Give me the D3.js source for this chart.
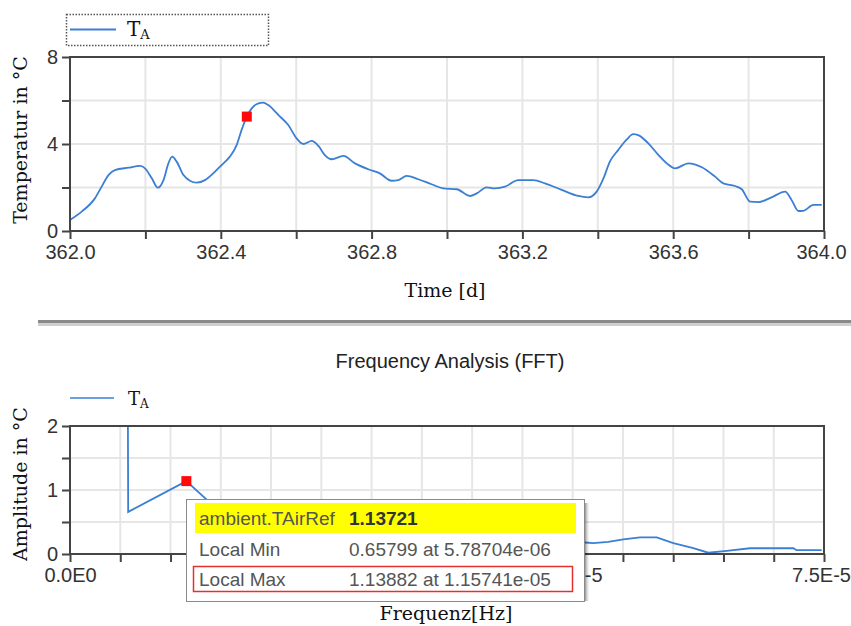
<!DOCTYPE html>
<html><head><meta charset="utf-8">
<script src="https://cdn.jsdelivr.net/npm/d3@7"></script>
<style>body{margin:0;background:#fff}svg{display:block}</style>
</head><body><svg id="c" width="851" height="626"></svg>
<script>
// ---------- data ----------
const timeDays = [362.000,362.031,362.066,362.084,362.102,362.119,362.155,362.186,362.199,362.217,362.233,362.248,362.261,362.271,362.283,362.301,362.318,362.336,362.358,362.380,362.402,362.424,362.442,362.455,362.469,362.482,362.500,362.512,362.526,362.553,362.579,362.601,362.619,362.641,362.659,362.676,362.694,362.725,362.756,362.791,362.822,362.853,362.871,362.893,362.924,362.959,362.990,363.026,363.061,363.079,363.105,363.127,363.154,363.189,363.229,363.260,363.304,363.348,363.375,363.397,363.415,363.432,363.454,363.477,363.494,363.507,363.534,363.561,363.583,363.605,363.640,363.676,363.711,363.733,363.764,363.782,363.804,363.826,363.861,363.897,363.914,363.932,363.945,363.972,363.994];
const tempA = [0.51,0.89,1.50,2.04,2.57,2.80,2.91,2.99,2.88,2.42,1.99,2.34,3.11,3.42,3.19,2.57,2.31,2.22,2.34,2.65,3.03,3.42,3.95,4.64,5.26,5.64,5.87,5.90,5.79,5.33,4.87,4.26,4.00,4.14,3.91,3.49,3.30,3.45,3.11,2.84,2.65,2.31,2.34,2.53,2.38,2.15,1.96,1.92,1.61,1.73,2.01,1.96,2.04,2.34,2.34,2.19,1.89,1.61,1.55,1.81,2.42,3.19,3.72,4.21,4.45,4.41,4.03,3.49,3.11,2.88,3.11,2.93,2.50,2.19,2.07,1.92,1.35,1.33,1.55,1.81,1.43,0.92,0.93,1.20,1.20];
const timeMarker = [362.469, 5.26];
const timeTickValues = [362.0,362.2,362.4,362.6,362.8,363.0,363.2,363.4,363.6,363.8,364.0];
const timeTickLabels = ["362.0","","362.4","","362.8","","363.2","","363.6","","364.0"];
const tempTickValues = [0,2,4,6,8];
const tempTickLabels = ["0","","4","","8"];

const fftFreq = [0,5.787e-6,1.1574e-5,1.7361e-5,2.3148e-5,2.8935e-5,3.4722e-5,4.0509e-5,4.6296e-5,5.123e-5,5.205e-5,5.355e-5,5.504e-5,5.670e-5,5.836e-5,6.001e-5,6.200e-5,6.349e-5,6.532e-5,6.764e-5,7.195e-5,7.228e-5,7.477e-5];
const fftAmp  = [300,0.658,1.1388,0.31,0.26,0.22,0.20,0.18,0.18,0.18,0.17,0.19,0.23,0.26,0.26,0.17,0.09,0.02,0.05,0.09,0.09,0.06,0.06];
const fftMarker = [1.15741e-5, 1.13882];
const freqTickValues = [0,5e-6,1e-5,1.5e-5,2e-5,2.5e-5,3e-5,3.5e-5,4e-5,4.5e-5,5e-5,5.5e-5,6e-5,6.5e-5,7e-5,7.5e-5];
const freqTickLabels = ["0.0E0","","","","","2.5E-5","","","","","5.0E-5","","","","","7.5E-5"];
const ampTickValues = [0,0.5,1,1.5,2];
const ampTickLabels = ["0","","1","","2"];

const tooltipNames = ["ambient.TAirRef","Local Min","Local Max"];
const tooltipValues = ["1.13721","0.65799 at 5.78704e-06","1.13882 at 1.15741e-05"];

// ---------- drawing ----------
const svg = d3.select("#c");
const BLUE = "#3b7fd4", FRAME = "#444", GRID = "#e6e6e6";
const SANS = "'Liberation Sans', Arial, sans-serif";
const SERIF = "'DejaVu Serif', serif";
const L = 70, R = 824;

function panel(cfg){
  const x = d3.scaleLinear().domain(cfg.xDomain).range([L, R]);
  const y = d3.scaleLinear().domain(cfg.yDomain).range([cfg.bottom, cfg.top]);
  const g = svg.append("g");
  g.selectAll(".vg").data(cfg.xTicks.slice(1,-1)).join("line")
    .attr("x1", d=>x(d)).attr("x2", d=>x(d)).attr("y1", cfg.top).attr("y2", cfg.bottom)
    .attr("stroke", GRID).attr("stroke-width", 2);
  g.selectAll(".hg").data(cfg.yTicks.slice(1,-1)).join("line")
    .attr("y1", d=>y(d)).attr("y2", d=>y(d)).attr("x1", L).attr("x2", R)
    .attr("stroke", GRID).attr("stroke-width", 2);
  const cid = "clip" + cfg.id;
  svg.append("clipPath").attr("id", cid).append("rect")
    .attr("x", L).attr("y", cfg.top).attr("width", R-L).attr("height", cfg.bottom-cfg.top);
  const line = d3.line().x(d=>x(d[0])).y(d=>y(d[1])).curve(cfg.curve);
  g.append("path").datum(d3.zip(cfg.xs, cfg.ys)).attr("d", line)
    .attr("fill","none").attr("stroke", BLUE).attr("stroke-width", 1.8)
    .attr("clip-path", `url(#${cid})`);
  g.append("rect").attr("x", x(cfg.marker[0])-5).attr("y", y(cfg.marker[1])-5)
    .attr("width", 10).attr("height", 10).attr("fill", "#ff0a0a");
  const xa = g.append("g").attr("transform", `translate(0,${cfg.bottom})`)
    .call(d3.axisBottom(x).tickValues(cfg.xTicks).tickSize(8).tickPadding(6)
      .tickFormat((d,i)=>cfg.xLabels[i]));
  const ya = g.append("g").attr("transform", `translate(${L},0)`)
    .call(d3.axisLeft(y).tickValues(cfg.yTicks).tickSize(8).tickPadding(4)
      .tickFormat((d,i)=>cfg.yLabels[i]));
  [xa, ya].forEach(a=>{
    a.select(".domain").remove();
    a.selectAll(".tick line").attr("stroke", FRAME).attr("stroke-width", 2);
    a.selectAll(".tick text").attr("font-family", SANS).attr("font-size", 20).attr("fill", "#333");
  });
  // keep last x label inside the picture
  xa.selectAll(".tick text").filter((d,i,n)=>i===n.length-1).attr("dx", -3);
  g.append("rect").attr("x", L).attr("y", cfg.top).attr("width", R-L).attr("height", cfg.bottom-cfg.top)
    .attr("fill","none").attr("stroke", FRAME).attr("stroke-width", 2);
  return {x, y};
}

panel({id:"t", xDomain:[362,364], yDomain:[0,8], top:57, bottom:231,
  xTicks: timeTickValues, xLabels: timeTickLabels, yTicks: tempTickValues, yLabels: tempTickLabels,
  xs: timeDays, ys: tempA, marker: timeMarker, curve: d3.curveMonotoneX});

panel({id:"b", xDomain:[0,7.5e-5], yDomain:[0,2], top:426, bottom:554,
  xTicks: freqTickValues, xLabels: freqTickLabels, yTicks: ampTickValues, yLabels: ampTickLabels,
  xs: fftFreq, ys: fftAmp, marker: fftMarker, curve: d3.curveLinear});

// top legend
svg.append("rect").attr("x",66.5).attr("y",14.5).attr("width",202).attr("height",31)
  .attr("fill","none").attr("stroke","#555").attr("stroke-width",1.5).attr("stroke-dasharray","1.5,1.5");
svg.append("line").attr("x1",70).attr("x2",116).attr("y1",29.5).attr("y2",29.5).attr("stroke",BLUE).attr("stroke-width",2);
const lt = svg.append("text").attr("x",127).attr("y",36).attr("font-family",SERIF).attr("font-size",20).attr("fill","#111");
lt.append("tspan").text("T");
lt.append("tspan").attr("font-size",13).attr("dy",3).text("A");

// bottom legend
svg.append("line").attr("x1",70).attr("x2",114).attr("y1",398).attr("y2",398).attr("stroke",BLUE).attr("stroke-width",1.5);
const lb = svg.append("text").attr("x",128).attr("y",405).attr("font-family",SERIF).attr("font-size",18).attr("fill","#111");
lb.append("tspan").text("T");
lb.append("tspan").attr("font-size",12).attr("dy",3).text("A");

// axis titles
svg.append("text").attr("transform","translate(27,140) rotate(-90)").attr("text-anchor","middle")
  .attr("font-family",SERIF).attr("font-size",19).attr("fill","#111").text("Temperatur in °C");
svg.append("text").attr("transform","translate(27,484) rotate(-90)").attr("text-anchor","middle")
  .attr("font-family",SERIF).attr("font-size",19).attr("fill","#111").text("Amplitude in °C");
svg.append("text").attr("x",445).attr("y",297).attr("text-anchor","middle")
  .attr("font-family",SERIF).attr("font-size",19).attr("fill","#111").text("Time [d]");
svg.append("text").attr("x",446).attr("y",620).attr("text-anchor","middle")
  .attr("font-family",SERIF).attr("font-size",19).attr("fill","#111").text("Frequenz[Hz]");

// separator
svg.append("rect").attr("x",38).attr("y",320).attr("width",813).attr("height",3).attr("fill","#8a8a8a");
svg.append("rect").attr("x",38).attr("y",323).attr("width",813).attr("height",3).attr("fill","#cfcfcf");

// bottom title
svg.append("text").attr("x",450).attr("y",368).attr("text-anchor","middle")
  .attr("font-family",SANS).attr("font-size",20).attr("fill","#222").text("Frequency Analysis (FFT)");

// tooltip
const tt = svg.append("g");
[0.35,0.22,0.12,0.06].forEach((o,i)=>{
  tt.append("rect").attr("x",585+i).attr("y",503).attr("width",1).attr("height",98).attr("fill","#000").attr("opacity",o);
});
tt.append("rect").attr("x",186.5).attr("y",499.5).attr("width",398).attr("height",102)
  .attr("fill","#fff").attr("stroke","#8a8a8a");
tt.append("rect").attr("x",195).attr("y",503).attr("width",381).attr("height",30).attr("fill","#ffff00");
tooltipNames.forEach((n,i)=>{
  tt.append("text").attr("x",199).attr("y",525+i*30.5).attr("font-family",SANS).attr("font-size",19)
    .attr("fill","#555").text(n);
  tt.append("text").attr("x",349).attr("y",525+i*30.5).attr("font-family",SANS).attr("font-size",19)
    .attr("font-weight", i===0?"bold":"normal").attr("fill", i===0?"#333":"#555").text(tooltipValues[i]);
});
tt.append("rect").attr("x",193.5).attr("y",566.5).attr("width",379).attr("height",25)
  .attr("fill","none").attr("stroke","#e53030").attr("stroke-width",1.5);
</script></body></html>
